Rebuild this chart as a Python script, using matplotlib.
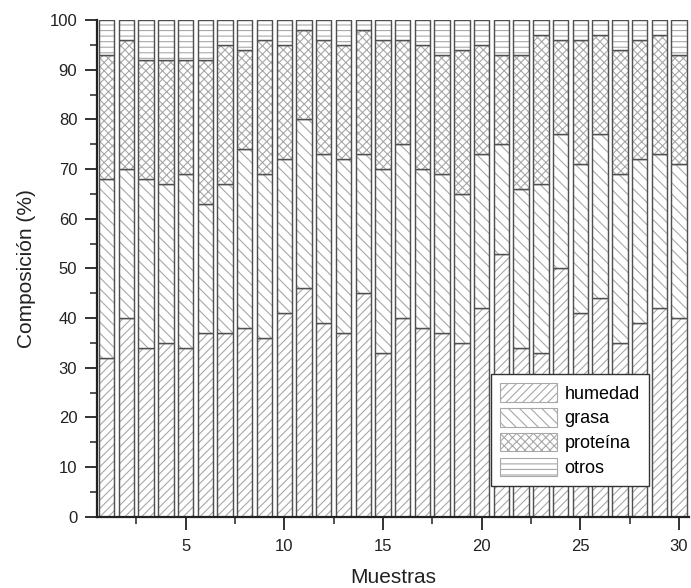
import matplotlib
matplotlib.use("Agg")
import matplotlib.pyplot as plt
import numpy as np

plt.rcParams['font.family'] = ['Liberation Sans', 'DejaVu Sans']
plt.rcParams['hatch.linewidth'] = 0.8

muestras = np.arange(1, 31)

# cumulative tops (%)
top_humedad = [32, 40, 34, 35, 34, 37, 37, 38, 36, 41, 46, 39, 37, 45, 33,
               40, 38, 37, 35, 42, 53, 34, 33, 50, 41, 44, 35, 39, 42, 40]
top_grasa = [68, 70, 68, 67, 69, 63, 67, 74, 69, 72, 80, 73, 72, 73, 70,
             75, 70, 69, 65, 73, 75, 66, 67, 77, 71, 77, 69, 72, 73, 71]
top_proteina = [93, 96, 92, 92, 92, 92, 95, 94, 96, 95, 98, 96, 95, 98, 96,
                96, 95, 93, 94, 95, 93, 93, 97, 96, 96, 97, 94, 96, 97, 93]
top_otros = [100] * 30

humedad = np.array(top_humedad)
grasa = np.array(top_grasa) - np.array(top_humedad)
proteina = np.array(top_proteina) - np.array(top_grasa)
otros = np.array(top_otros) - np.array(top_proteina)

series = [humedad, grasa, proteina, otros]
nombres = ['humedad', 'grasa', 'proteína', 'otros']
hatches = ['////', '\\\\\\', 'xxxx', '---']

fig = plt.figure(figsize=(6.91, 5.88), dpi=100)
ax = fig.add_axes([0.140, 0.121, 0.857, 0.845])

w = 0.78
bottom = np.zeros(30)
handles = []
for vals, name, h in zip(series, nombres, hatches):
    b = ax.bar(muestras, vals, w, bottom=bottom, color='white',
               edgecolor='#a8a8a8', hatch=h, linewidth=0.8, label=name)
    ax.bar(muestras, vals, w, bottom=bottom, fill=False,
           edgecolor='#505050', linewidth=1.0)
    handles.append(b)
    bottom = bottom + vals

ax.set_xlim(0.5, 30.5)
ax.set_ylim(0, 100)
ax.set_xticks([5, 10, 15, 20, 25, 30])
ax.set_xticks(np.arange(2.5, 31, 2.5), minor=True)
ax.set_yticks(np.arange(0, 101, 10))
ax.set_yticks(np.arange(0, 101, 5), minor=True)
ax.tick_params(which='major', length=9, width=1.3, labelsize=12, pad=5,
               colors='#222222')
ax.tick_params(axis='x', which='major', pad=7)
ax.tick_params(which='minor', length=5, width=1.1, colors='#222222')
ax.spines['top'].set_visible(False)
ax.spines['right'].set_visible(False)
ax.spines['left'].set_linewidth(1.6)
ax.spines['bottom'].set_linewidth(1.6)
ax.spines['left'].set_color('#222222')
ax.spines['bottom'].set_color('#222222')

ax.set_xlabel('Muestras', fontsize=15, color='#222222', labelpad=10)
ax.set_ylabel('Composición (%)', fontsize=15, color='#222222', labelpad=10)

leg = ax.legend(handles, nombres, loc='lower left', bbox_to_anchor=(0.665, 0.062),
                borderaxespad=0, fontsize=13, frameon=True, fancybox=False,
                framealpha=1, edgecolor='#333333', handlelength=3.2,
                handleheight=1.2, labelspacing=0.3, handletextpad=0.4,
                borderpad=0.5)
leg.get_frame().set_linewidth(1.0)

plt.savefig('out.png', dpi=100)
